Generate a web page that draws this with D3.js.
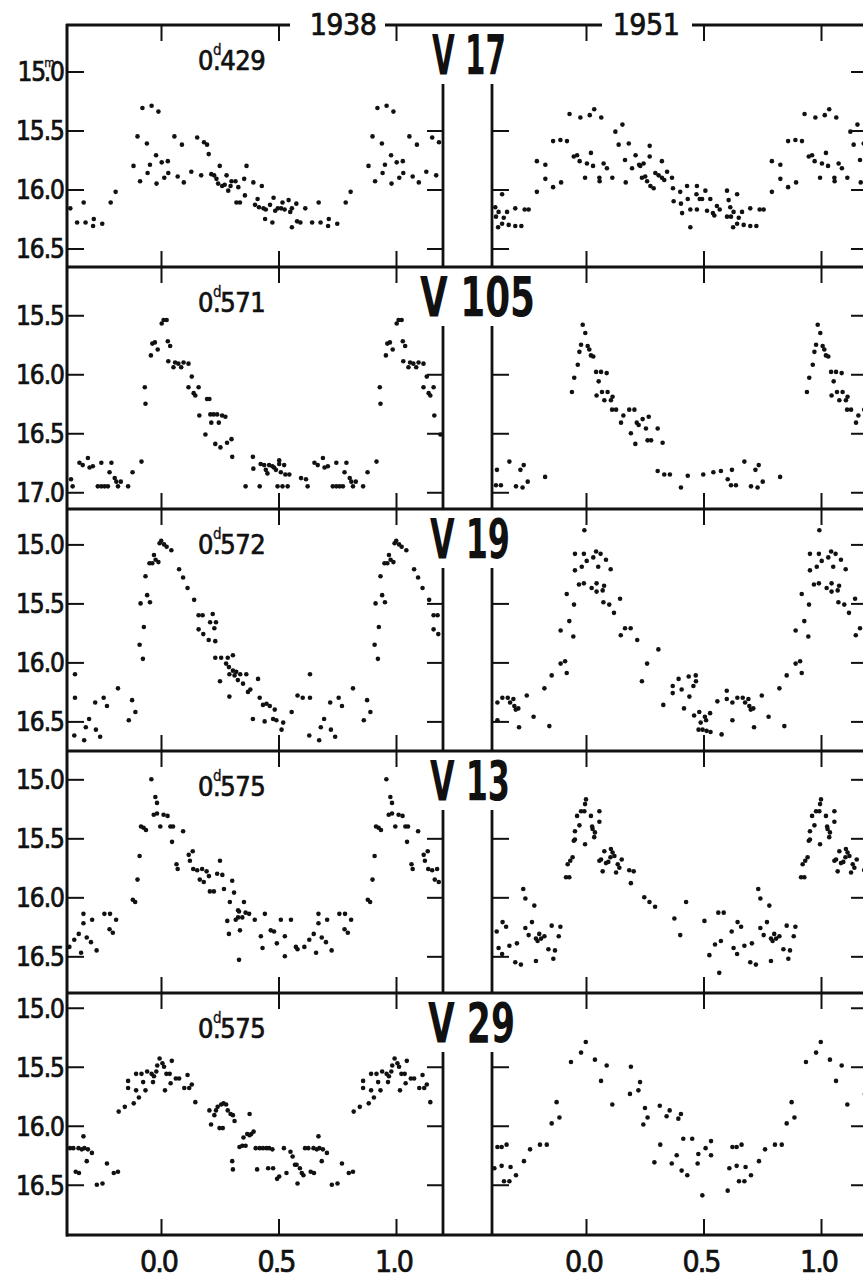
<!DOCTYPE html>
<html>
<head>
<meta charset="utf-8">
<script src="https://cdn.jsdelivr.net/npm/d3@7/dist/d3.min.js"></script>
<style>
  body { margin: 0; background: #fff; }
  svg { display: block; }
</style>
</head>
<body>
<script>
// star names, periods (days) and the two epochs
const stars = ['V 17', 'V 105', 'V 19', 'V 13', 'V 29'];
const periods = ['0.429', '0.571', '0.572', '0.575', '0.575'];
const years = ['1938', '1951'];
const phaseTicks = [0.0, 0.5, 1.0];
const magTicks = [
  [15.0, 15.5, 16.0, 16.5],
  [15.5, 16.0, 16.5, 17.0],
  [15.0, 15.5, 16.0, 16.5],
  [15.0, 15.5, 16.0, 16.5],
  [15.0, 15.5, 16.0, 16.5]
];
// magnitude at the upper edge of each panel
const magTop = [14.606, 15.091, 14.70, 14.76, 14.875];

// [phase, magnitude], one cycle each
const v17_1938 = [[-0.193,16.02],[-0.117,15.80],[-0.100,15.55],[-0.089,15.93],[-0.079,15.31],[-0.060,15.61],[-0.057,15.86],[-0.047,15.79],[-0.040,15.29],[-0.021,15.71],[-0.019,15.95],[-0.011,15.34],[0.003,15.77],[0.014,15.90],[0.029,15.76],[0.031,15.86],[0.057,15.55],[0.071,15.89],[0.089,15.62],[0.097,15.94],[0.129,15.85],[0.154,15.56],[0.171,15.88],[0.183,15.60],[0.196,15.62],[0.203,15.70],[0.214,15.87],[0.226,15.88],[0.236,15.91],[0.243,15.95],[0.250,15.80],[0.260,15.97],[0.271,15.96],[0.279,15.88],[0.286,16.01],[0.296,15.97],[0.300,15.93],[0.317,15.93],[0.321,16.11],[0.329,15.98],[0.336,16.11],[0.354,15.91],[0.357,16.05],[0.364,15.80],[0.393,15.94],[0.400,16.13],[0.411,16.08],[0.417,16.15],[0.429,15.97],[0.436,16.16],[0.446,16.17],[0.443,16.25],[0.464,16.13],[0.474,16.28],[0.479,16.07],[0.486,16.18],[0.497,16.16],[0.511,16.16],[0.517,16.11],[0.526,16.17],[0.543,16.09],[0.550,16.19],[0.557,16.16],[0.576,16.12],[0.557,16.32],[0.579,16.27],[0.593,16.28],[0.614,16.16],[0.643,16.28],[0.671,16.11],[0.679,16.28],[0.711,16.31],[0.714,16.25],[0.750,16.29],[0.786,16.11]];
const v17_1951 = [[-0.173,15.79],[-0.173,15.91],[-0.140,15.98],[-0.140,15.59],[-0.109,15.58],[-0.106,15.94],[-0.081,15.59],[-0.070,15.36],[-0.052,15.72],[-0.038,15.71],[-0.027,15.76],[-0.024,15.39],[-0.004,15.90],[0.004,15.78],[0.016,15.37],[0.021,15.69],[0.030,15.80],[0.035,15.32],[0.057,15.90],[0.058,15.93],[0.065,15.39],[0.075,15.78],[0.089,15.82],[0.112,15.90],[0.125,15.51],[0.139,15.62],[0.155,15.45],[0.166,15.75],[0.169,15.94],[0.182,15.61],[0.196,15.82],[0.211,15.71],[0.226,15.79],[0.231,15.80],[0.238,15.90],[0.245,15.78],[0.252,15.89],[0.260,15.93],[0.271,15.63],[0.271,15.72],[0.274,15.97],[0.288,15.99],[0.295,15.86],[0.309,15.88],[0.323,15.76],[0.323,15.90],[0.333,15.92],[0.345,15.85],[0.366,15.90],[0.370,15.99],[0.373,16.10],[0.401,16.02],[0.404,16.12],[0.409,16.20],[0.430,15.97],[0.433,16.08],[0.444,16.17],[0.444,16.32],[0.472,15.97],[0.470,16.04],[0.472,16.17],[0.484,16.08],[0.494,16.08],[0.508,16.01],[0.515,16.18],[0.529,16.08],[0.540,16.20],[0.546,16.22],[0.557,16.14],[0.569,16.17],[0.600,16.01],[0.600,16.23],[0.607,16.09],[0.614,16.15],[0.617,16.23],[0.628,16.19],[0.626,16.32],[0.643,16.04],[0.650,16.24],[0.643,16.29],[0.664,16.19],[0.671,16.30],[0.699,16.16],[0.699,16.31],[0.725,16.31],[0.739,16.17],[0.756,16.17],[0.791,15.76],[0.791,16.02]];
const v105_1938 = [[-0.197,16.88],[-0.190,16.91],[-0.183,16.95],[-0.171,16.91],[-0.140,16.95],[-0.121,16.83],[-0.083,16.74],[-0.069,16.11],[-0.066,16.25],[-0.043,15.84],[-0.037,15.74],[-0.026,15.73],[-0.014,15.79],[0.003,15.57],[0.011,15.54],[0.024,15.54],[0.029,15.72],[0.039,15.76],[0.031,15.89],[0.053,15.94],[0.060,15.90],[0.074,15.91],[0.086,15.94],[0.096,15.90],[0.117,15.91],[0.131,16.02],[0.117,16.11],[0.139,16.16],[0.146,16.18],[0.160,16.11],[0.163,16.35],[0.189,16.51],[0.196,16.21],[0.206,16.21],[0.210,16.34],[0.214,16.41],[0.224,16.34],[0.239,16.34],[0.246,16.41],[0.231,16.59],[0.253,16.62],[0.260,16.35],[0.274,16.36],[0.281,16.58],[0.300,16.55],[0.303,16.70],[0.360,16.95],[0.391,16.70],[0.393,16.80],[0.420,16.95],[0.424,16.76],[0.439,16.77],[0.446,16.81],[0.453,16.84],[0.460,16.77],[0.474,16.78],[0.481,16.79],[0.489,16.81],[0.503,16.73],[0.503,16.76],[0.496,16.95],[0.510,16.83],[0.517,16.95],[0.524,16.77],[0.529,16.85],[0.539,16.95],[0.546,16.85],[0.596,16.88],[0.617,16.89],[0.624,16.95],[0.653,16.75],[0.667,16.77],[0.689,16.71],[0.696,16.79],[0.710,16.78],[0.746,16.75],[0.731,16.95],[0.746,16.95],[0.760,16.95],[0.774,16.95],[0.789,16.75],[0.781,16.83]];
const v105_1951 = [[-0.174,16.87],[-0.060,16.15],[-0.050,16.03],[-0.035,15.92],[-0.028,15.81],[-0.021,15.75],[-0.014,15.58],[-0.003,15.65],[0.007,15.76],[0.014,15.79],[0.021,15.84],[0.031,15.85],[0.043,15.98],[0.054,16.06],[0.064,15.98],[0.045,16.18],[0.068,16.15],[0.078,16.22],[0.088,15.99],[0.092,16.15],[0.106,16.22],[0.113,16.19],[0.111,16.30],[0.128,16.30],[0.149,16.41],[0.159,16.35],[0.184,16.30],[0.191,16.50],[0.206,16.30],[0.210,16.59],[0.216,16.41],[0.224,16.43],[0.241,16.38],[0.255,16.46],[0.262,16.56],[0.267,16.36],[0.277,16.56],[0.305,16.46],[0.326,16.58],[0.305,16.82],[0.333,16.85],[0.357,16.85],[0.404,16.96],[0.433,16.86],[0.499,16.85],[0.542,16.83],[0.574,16.82],[0.603,16.89],[0.621,16.81],[0.617,16.94],[0.638,16.94],[0.674,16.74],[0.702,16.95],[0.730,16.96],[0.721,16.81],[0.735,16.77],[0.752,16.91]];
const v19_1938 = [[-0.183,16.22],[-0.137,16.49],[-0.123,16.32],[-0.109,16.42],[-0.091,15.85],[-0.077,15.97],[-0.087,15.50],[-0.073,15.70],[-0.066,15.27],[-0.059,15.43],[-0.047,15.49],[-0.049,15.16],[-0.037,15.16],[-0.030,15.09],[-0.023,15.13],[-0.011,15.15],[-0.006,14.99],[0.001,14.97],[0.013,15.00],[0.024,15.02],[0.044,15.05],[0.077,15.21],[0.094,15.28],[0.113,15.37],[0.141,15.47],[0.160,15.60],[0.177,15.60],[0.220,15.59],[0.160,15.72],[0.180,15.76],[0.203,15.81],[0.231,15.82],[0.209,15.66],[0.234,15.66],[0.227,15.71],[0.231,15.96],[0.256,15.96],[0.284,15.96],[0.306,15.94],[0.277,16.01],[0.289,16.04],[0.291,16.10],[0.306,16.07],[0.313,16.11],[0.320,16.08],[0.327,16.15],[0.337,16.10],[0.349,16.18],[0.363,16.10],[0.370,16.25],[0.380,16.23],[0.413,16.14],[0.251,16.16],[0.291,16.29],[0.420,16.30],[0.434,16.36],[0.449,16.35],[0.463,16.37],[0.484,16.40],[0.491,16.49],[0.520,16.51],[0.513,16.57],[0.441,16.50],[0.391,16.48],[0.477,16.48],[0.556,16.42],[0.581,16.28],[0.603,16.30],[0.634,16.30],[0.634,16.10],[0.631,16.62],[0.673,16.66],[0.680,16.55],[0.694,16.48],[0.720,16.34],[0.723,16.57],[0.741,16.63],[0.756,16.30],[0.770,16.37]];
const v19_1951 = [[-0.177,16.22],[-0.156,16.54],[-0.146,16.11],[-0.108,16.01],[-0.108,15.73],[-0.089,15.99],[-0.082,16.09],[-0.082,15.42],[-0.071,15.65],[-0.054,15.78],[-0.051,15.51],[-0.047,15.22],[-0.047,15.08],[-0.030,15.34],[-0.018,15.19],[-0.009,15.08],[-0.009,15.33],[-0.007,14.88],[0.003,15.14],[0.031,15.11],[0.024,15.37],[0.043,15.06],[0.045,15.33],[0.045,15.40],[0.052,15.19],[0.062,15.08],[0.071,15.39],[0.074,15.49],[0.077,15.35],[0.085,15.13],[0.099,15.51],[0.105,15.21],[0.119,15.58],[0.145,15.46],[0.148,15.77],[0.166,15.71],[0.190,15.71],[0.218,15.81],[0.238,16.16],[0.260,16.01],[0.308,15.89],[0.329,16.36],[0.369,16.20],[0.369,16.26],[0.394,16.14],[0.407,16.23],[0.417,16.39],[0.437,16.12],[0.440,16.29],[0.457,16.20],[0.467,16.11],[0.468,16.16],[0.460,16.45],[0.482,16.42],[0.488,16.51],[0.506,16.46],[0.511,16.49],[0.528,16.43],[0.479,16.57],[0.496,16.57],[0.513,16.58],[0.530,16.59],[0.577,16.61],[0.559,16.33],[0.599,16.24],[0.599,16.31],[0.623,16.34],[0.623,16.49],[0.644,16.30],[0.667,16.30],[0.677,16.34],[0.691,16.31],[0.695,16.37],[0.701,16.40],[0.712,16.39],[0.715,16.55],[0.748,16.28],[0.777,16.46]];
const v13_1938 = [[-0.191,16.19],[-0.120,16.02],[-0.110,16.04],[-0.100,15.85],[-0.091,15.65],[-0.085,15.40],[-0.074,15.41],[-0.064,15.43],[-0.041,15.00],[-0.031,15.30],[-0.024,15.15],[-0.017,15.20],[-0.017,15.29],[-0.003,15.40],[0.011,15.30],[0.028,15.31],[0.040,15.40],[0.051,15.40],[0.047,15.53],[0.066,15.72],[0.071,15.76],[0.094,15.44],[0.118,15.64],[0.123,15.69],[0.135,15.61],[0.137,15.76],[0.154,15.77],[0.165,15.85],[0.175,15.76],[0.182,15.87],[0.194,15.78],[0.204,15.82],[0.208,15.95],[0.225,15.95],[0.239,15.80],[0.251,15.69],[0.261,15.81],[0.268,15.93],[0.282,16.20],[0.289,16.31],[0.293,16.04],[0.303,15.86],[0.311,15.96],[0.328,16.11],[0.332,16.12],[0.328,16.17],[0.336,16.28],[0.346,16.17],[0.353,16.04],[0.360,16.13],[0.318,16.19],[0.332,16.53],[0.375,16.14],[0.399,16.19],[0.425,16.33],[0.432,16.43],[0.442,16.14],[0.467,16.28],[0.481,16.29],[0.493,16.39],[0.510,16.19],[0.527,16.50],[0.527,16.33],[0.553,16.19],[0.574,16.42],[0.581,16.44],[0.610,16.42],[0.631,16.36],[0.650,16.31],[0.660,16.47],[0.670,16.22],[0.670,16.14],[0.684,16.34],[0.702,16.38],[0.707,16.19],[0.726,16.45],[0.759,16.14],[0.783,16.14],[0.781,16.27],[0.795,16.30]];
const v13_1951 = [[-0.199,16.31],[-0.191,16.35],[-0.177,16.33],[-0.160,16.44],[-0.146,16.24],[-0.132,16.45],[-0.139,16.52],[-0.116,16.33],[-0.109,16.25],[-0.085,15.83],[-0.071,15.83],[-0.078,15.72],[-0.067,15.69],[-0.057,15.66],[-0.052,15.52],[-0.047,15.51],[-0.047,15.44],[-0.038,15.31],[-0.028,15.39],[-0.021,15.27],[-0.007,15.27],[-0.004,15.21],[-0.004,15.55],[0.000,15.17],[0.021,15.31],[0.026,15.40],[0.028,15.42],[0.035,15.49],[0.038,15.45],[0.057,15.27],[0.057,15.36],[0.071,15.78],[0.057,15.69],[0.064,15.68],[0.078,15.61],[0.085,15.71],[0.095,15.70],[0.106,15.59],[0.104,15.66],[0.113,15.62],[0.121,15.65],[0.128,15.79],[0.135,15.72],[0.142,15.75],[0.152,15.68],[0.184,15.77],[0.203,15.78],[0.191,15.88],[0.248,16.00],[0.270,16.04],[0.294,16.08],[0.376,16.18],[0.401,16.32],[0.426,16.04],[0.504,16.20],[0.525,16.49],[0.549,16.40],[0.567,16.64],[0.563,16.13],[0.574,16.37],[0.586,16.13],[0.620,16.29],[0.628,16.43],[0.643,16.48],[0.645,16.21],[0.660,16.25],[0.674,16.41],[0.699,16.55],[0.706,16.39],[0.723,16.57],[0.733,15.93],[0.742,16.01],[0.742,16.26],[0.756,16.32],[0.770,16.21],[0.780,16.07],[0.787,16.54],[0.787,16.35],[0.794,16.37]];
const v29_1938 = [[-0.183,16.39],[-0.180,15.88],[-0.154,15.84],[-0.140,15.62],[-0.140,15.68],[-0.116,15.81],[-0.106,15.70],[-0.106,15.56],[-0.094,15.76],[-0.083,15.56],[-0.076,15.63],[-0.066,15.70],[-0.059,15.54],[-0.040,15.56],[-0.034,15.63],[-0.030,15.58],[-0.020,15.54],[-0.016,15.49],[-0.006,15.43],[0.006,15.47],[0.013,15.50],[0.017,15.70],[0.023,15.56],[0.037,15.56],[0.041,15.64],[0.046,15.45],[0.063,15.60],[0.077,15.60],[0.099,15.68],[0.113,15.57],[0.120,15.68],[0.131,15.65],[0.146,15.80],[0.206,15.87],[0.213,15.99],[0.227,15.91],[0.234,15.87],[0.241,15.84],[0.256,15.82],[0.266,15.81],[0.277,15.82],[0.249,16.02],[0.263,16.02],[0.284,15.87],[0.296,15.90],[0.306,15.91],[0.313,15.96],[0.303,16.30],[0.306,16.37],[0.334,16.18],[0.346,16.17],[0.351,16.10],[0.360,16.17],[0.367,16.07],[0.377,15.90],[0.377,16.08],[0.384,16.07],[0.394,16.05],[0.403,16.19],[0.409,16.37],[0.420,16.19],[0.434,16.19],[0.449,16.19],[0.460,16.19],[0.474,16.20],[0.456,16.36],[0.477,16.36],[0.494,16.45],[0.503,16.43],[0.523,16.19],[0.534,16.40],[0.551,16.22],[0.560,16.26],[0.570,16.33],[0.577,16.33],[0.581,16.49],[0.591,16.36],[0.599,16.40],[0.606,16.42],[0.613,16.19],[0.627,16.19],[0.637,16.39],[0.651,16.40],[0.649,16.19],[0.663,16.20],[0.670,16.09],[0.674,16.19],[0.684,16.30],[0.689,16.20],[0.706,16.23],[0.727,16.50],[0.751,16.49],[0.770,16.32],[0.799,16.40]];
const v29_1951 = [[-0.196,16.16],[-0.167,16.16],[-0.146,15.98],[-0.125,15.80],[-0.113,15.93],[-0.064,15.46],[-0.021,15.38],[-0.001,15.29],[0.038,15.44],[0.064,15.62],[0.088,15.49],[0.112,15.82],[0.191,15.50],[0.187,15.73],[0.223,15.70],[0.230,15.63],[0.251,15.85],[0.262,15.93],[0.244,15.99],[0.291,16.31],[0.314,15.83],[0.316,16.16],[0.343,15.92],[0.356,15.87],[0.365,16.32],[0.386,16.25],[0.393,15.94],[0.404,15.90],[0.407,16.38],[0.414,16.11],[0.431,16.42],[0.452,16.11],[0.478,16.24],[0.475,16.32],[0.495,16.59],[0.509,16.19],[0.532,16.13],[0.532,16.25],[0.603,16.55],[0.610,16.36],[0.623,16.18],[0.641,16.18],[0.662,16.16],[0.641,16.34],[0.651,16.47],[0.674,16.47],[0.679,16.35],[0.702,16.42],[0.736,16.30],[0.762,16.20]];

const series = [
  [v17_1938, v17_1951],
  [v105_1938, v105_1951],
  [v19_1938, v19_1951],
  [v13_1938, v13_1951],
  [v29_1938, v29_1951]
];

document.addEventListener('DOMContentLoaded', function(){
  render();
});

function render() {
  const svgWid = 863, svgHt = 1283;
  const svg = d3.select('body').append('svg').attr('width', svgWid).attr('height', svgHt);

  const top0 = 25, panelH = 242, pxPerMag = 118;
  const gapStart = 59;          // gap lines start below the star label
  const ink = '#111';
  const numFont = "'DejaVu Sans Condensed','Liberation Sans Narrow','DejaVu Sans',sans-serif";

  // two halves: 1938 on the left, 1951 on the right
  const halves = [
    {x0: 67, x1: 443, zero: 161},
    {x0: 492, x1: 867, zero: 586}
  ];
  const unit = 235;
  const bottom = top0 + panelH * stars.length;

  // star label placement (x start, width)
  const starLab = [[432, 74], [420, 115], [430, 80], [430, 80], [428, 87]];

  // thicken the printed digits a little
  const heavy = sel => sel.attr('stroke', ink).attr('stroke-width', 0.7).attr('fill', ink);

  stars.forEach((name, i) => {
    const top = top0 + panelH * i;
    const yScale = d3.scaleLinear()
      .domain([magTop[i], magTop[i] + panelH / pxPerMag])
      .range([top, top + panelH]);
    const g = svg.append('g');

    halves.forEach((hf, h) => {
      const xScale = d3.scaleLinear().domain([0, 1]).range([hf.zero, hf.zero + unit]);
      const lo = xScale.invert(hf.x0 + 2), hi = xScale.invert(hf.x1 - 2);

      // x ticks: down from top line, up from bottom line
      const xt = g.append('g').attr('transform', `translate(0,${top})`)
        .call(d3.axisBottom(xScale).tickValues(phaseTicks).tickSize(16).tickFormat(''));
      const xb = g.append('g').attr('transform', `translate(0,${top + panelH})`)
        .call(d3.axisTop(xScale).tickValues(phaseTicks).tickSize(16).tickFormat(''));
      [xt, xb].forEach(a => {
        a.select('.domain').remove();
        a.selectAll('.tick line').attr('stroke', ink).attr('stroke-width', 2);
      });

      // y ticks on the outer and inner frame of each half
      const outerTicks = magTicks[i];
      const innerTicks = magTicks[i].filter(v => yScale(v) > top + gapStart + 3);
      let leftAx, rightAx;
      if (h === 0) {
        leftAx = d3.axisRight(yScale).tickValues(outerTicks);
        rightAx = d3.axisLeft(yScale).tickValues(innerTicks);
      } else {
        leftAx = d3.axisRight(yScale).tickValues(innerTicks);
        rightAx = d3.axisLeft(yScale).tickValues(outerTicks);
      }
      const la = g.append('g').attr('transform', `translate(${hf.x0},0)`)
        .call(leftAx.tickSize(17).tickFormat(''));
      const ra = g.append('g').attr('transform', `translate(${hf.x1},0)`)
        .call(rightAx.tickSize(16).tickFormat(''));
      [la, ra].forEach(a => {
        a.select('.domain').remove();
        a.selectAll('.tick line').attr('stroke', ink).attr('stroke-width', 2);
      });

      // frame verticals; the inner ones stop under the star label
      const innerX = h === 0 ? hf.x1 : hf.x0;
      g.append('line').attr('x1', innerX).attr('x2', innerX)
        .attr('y1', top + gapStart).attr('y2', top + panelH)
        .attr('stroke', ink).attr('stroke-width', 2.8);

      // points, repeated one cycle either side
      const pts = [];
      series[i][h].forEach(d => {
        [d[0] - 1, d[0], d[0] + 1].forEach(p => {
          if (p >= lo && p <= hi) pts.push([p, d[1]]);
        });
      });
      g.selectAll(null).data(pts).enter()
        .append('circle')
        .attr('cx', d => xScale(d[0]))
        .attr('cy', d => yScale(d[1]))
        .attr('r', 2.3)
        .attr('fill', ink);
    });

    // magnitude labels at the far left
    const yl = g.append('g').attr('transform', `translate(64,0)`)
      .call(d3.axisLeft(yScale).tickValues(magTicks[i]).tickSize(0).tickPadding(0).tickFormat(d3.format('.1f')));
    yl.select('.domain').remove();
    yl.selectAll('text')
      .attr('font-family', numFont).attr('font-size', 26).attr('letter-spacing', -1)
      .attr('dy', '0.36em')
      .call(heavy);
    if (i === 0) {
      // first label carries the magnitude mark: 15.0 with m above the point
      const t = yl.select('.tick text');
      const s = t.text();
      t.text(null);
      t.append('tspan').text(s.slice(0, 2));
      t.append('tspan').text('m').attr('font-size', 12).attr('dy', -14).attr('dx', -1).attr('stroke-width', 0.3);
      t.append('tspan').text(s.slice(2)).attr('dy', 14).attr('dx', -10);
    }

    // period label, d written above the decimal point
    const pt = g.append('text')
      .attr('x', 198).attr('y', top + 45)
      .attr('font-family', numFont).attr('font-size', 27).attr('letter-spacing', -0.5)
      .call(heavy);
    pt.append('tspan').text(periods[i].slice(0, 1));
    pt.append('tspan').text('d').attr('font-size', 15).attr('dy', -15).attr('stroke-width', 0.3);
    pt.append('tspan').text(periods[i].slice(1)).attr('dy', 15).attr('dx', -8);

    // star name, bold and narrow
    g.append('text').text(name)
      .attr('x', starLab[i][0]).attr('y', top + 49)
      .attr('textLength', starLab[i][1]).attr('lengthAdjust', 'spacingAndGlyphs')
      .attr('font-family', numFont).attr('font-weight', 'bold').attr('font-size', 55)
      .attr('fill', ink);
  });

  // horizontal lines between panels (the top one is broken by the years)
  d3.range(1, stars.length + 1).forEach(k => {
    const y = top0 + panelH * k;
    svg.append('line').attr('x1', 66).attr('x2', 870).attr('y1', y).attr('y2', y)
      .attr('stroke', ink).attr('stroke-width', k === stars.length ? 3.2 : 2.8);
  });
  const topSegs = [[66, 290], [385, 602], [692, 870]];
  topSegs.forEach(s => {
    svg.append('line').attr('x1', s[0]).attr('x2', s[1]).attr('y1', top0).attr('y2', top0)
      .attr('stroke', ink).attr('stroke-width', 2.8);
  });
  // outer frame verticals
  svg.append('line').attr('x1', halves[0].x0).attr('x2', halves[0].x0)
    .attr('y1', top0 - 1).attr('y2', bottom + 1.5)
    .attr('stroke', ink).attr('stroke-width', 3);
  svg.append('line').attr('x1', halves[1].x1).attr('x2', halves[1].x1)
    .attr('y1', top0 - 1).attr('y2', bottom + 1.5)
    .attr('stroke', ink).attr('stroke-width', 3);

  // epoch labels in the top line
  [343, 646].forEach((x, k) => {
    svg.append('text').text(years[k])
      .attr('x', x).attr('y', 35).attr('text-anchor', 'middle')
      .attr('font-family', numFont).attr('font-size', 30).attr('letter-spacing', -0.5)
      .call(heavy);
  });

  // phase labels under both halves
  halves.forEach(hf => {
    const xScale = d3.scaleLinear().domain([0, 1]).range([hf.zero, hf.zero + unit]);
    const xl = svg.append('g').attr('transform', `translate(-3,${bottom})`)
      .call(d3.axisBottom(xScale).tickValues(phaseTicks).tickSize(0).tickPadding(16).tickFormat(d3.format('.1f')));
    xl.select('.domain').remove();
    xl.selectAll('text')
      .attr('font-family', numFont).attr('font-size', 30).attr('letter-spacing', -2)
      .call(heavy);
  });
}
</script>
</body>
</html>
